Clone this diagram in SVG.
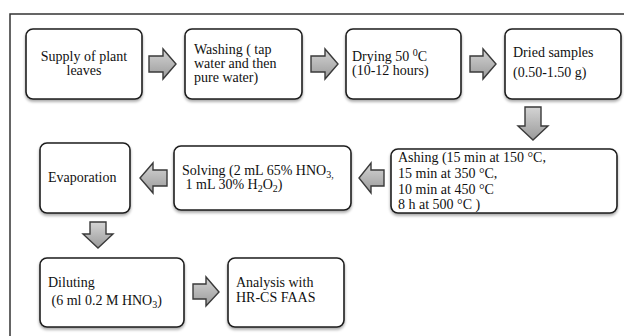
<svg xmlns="http://www.w3.org/2000/svg" width="624" height="336" viewBox="0 0 624 336">
<defs>
<linearGradient id="ag" x1="0" y1="0" x2="0" y2="1">
<stop offset="0" stop-color="#d4d4d4"/>
<stop offset="1" stop-color="#9a9a9a"/>
</linearGradient>
<filter id="sh" x="-10%" y="-10%" width="120%" height="130%">
<feGaussianBlur in="SourceAlpha" stdDeviation="1.5"/>
<feOffset dx="0" dy="2" result="b"/>
<feComponentTransfer><feFuncA type="linear" slope="0.35"/></feComponentTransfer>
<feMerge><feMergeNode/><feMergeNode in="SourceGraphic"/></feMerge>
</filter>
<style>
.box{fill:#fff;stroke:#1e1e1e;stroke-width:1.6;filter:url(#sh)}
.arr{fill:url(#ag);stroke:#3a3a3a;stroke-width:1.4;stroke-linejoin:miter}
.t{font-family:"Liberation Serif","Times New Roman",serif;font-size:14px;fill:#111}
.sub{font-size:10px;baseline-shift:-3px}
.sup{font-size:10px;baseline-shift:5px}
.frame{fill:none;stroke:#333;stroke-width:1.5}
</style>
</defs>
<rect width="624" height="336" fill="#fff"/>
<path class="frame" d="M10,336 V14 H624"/>

<g id="supply">
<rect class="box" x="26" y="29" width="116" height="70" rx="7"/>
<text class="t" x="84" y="61" text-anchor="middle">Supply of plant</text>
<text class="t" x="84" y="75" text-anchor="middle">leaves</text>
</g>
<g id="washing">
<rect class="box" x="185" y="29" width="117" height="70" rx="7"/>
<text class="t" x="194" y="54">Washing ( tap</text>
<text class="t" x="194" y="68">water and then</text>
<text class="t" x="194" y="82">pure water)</text>
</g>
<g id="drying">
<rect class="box" x="346" y="29" width="115" height="70" rx="7"/>
<text class="t" x="352" y="61">Drying 50 <tspan class="sup">0</tspan>C</text>
<text class="t" x="352" y="75">(10-12 hours)</text>
</g>
<g id="dried">
<rect class="box" x="505" y="29" width="116" height="70" rx="7"/>
<text class="t" x="513" y="57">Dried samples</text>
<text class="t" x="513" y="77">(0.50-1.50 g)</text>
</g>
<g id="ashing">
<rect class="box" x="391" y="149" width="226" height="64" rx="7"/>
<text class="t" x="398" y="162">Ashing (15 min at 150 °C,</text>
<text class="t" x="398" y="178">15 min at 350 °C,</text>
<text class="t" x="398" y="194">10 min at 450 °C</text>
<text class="t" x="398" y="209">8 h at 500 °C )</text>
</g>
<g id="solving">
<rect class="box" x="174" y="146" width="177" height="64" rx="7"/>
<text class="t" x="182" y="175">Solving (2 mL 65% HNO<tspan class="sub">3,</tspan></text>
<text class="t" x="182" y="189" xml:space="preserve"> 1 mL 30% H<tspan class="sub">2</tspan>O<tspan class="sub">2</tspan>)</text>
</g>
<g id="evaporation">
<rect class="box" x="40" y="143" width="90" height="70" rx="7"/>
<text class="t" x="48" y="182">Evaporation</text>
</g>
<g id="diluting">
<rect class="box" x="40" y="258" width="144" height="69" rx="7"/>
<text class="t" x="48" y="287">Diluting</text>
<text class="t" x="48" y="305" xml:space="preserve"> (6 ml 0.2 M HNO<tspan class="sub">3</tspan>)</text>
</g>
<g id="analysis">
<rect class="box" x="228" y="258" width="116" height="69" rx="7"/>
<text class="t" x="236" y="287">Analysis with</text>
<text class="t" x="236" y="302">HR-CS FAAS</text>
</g>

<g id="connectors">
<path class="arr" transform="translate(149,49)" d="M0,7 H14 V0 L27,15 L14,30 V23 H0 Z"/>
<path class="arr" transform="translate(311,49)" d="M0,7 H14 V0 L27,15 L14,30 V23 H0 Z"/>
<path class="arr" transform="translate(470,49)" d="M0,7 H13 V0 L26,15 L13,30 V23 H0 Z"/>
<path class="arr" transform="translate(518,107)" d="M7,0 H23 V19 H30 L15,33 L0,19 H7 Z"/>
<path class="arr" transform="translate(359,163)" d="M25,7 H12 V0 L0,15 L12,30 V23 H25 Z"/>
<path class="arr" transform="translate(140,163)" d="M27,7 H13 V0 L0,15 L13,30 V23 H27 Z"/>
<path class="arr" transform="translate(83,222)" d="M7,0 H23 V12 H30 L15,26 L0,12 H7 Z"/>
<path class="arr" transform="translate(193,277)" d="M0,7 H13 V0 L26,15 L13,29 V22 H0 Z"/>
</g>
</svg>
